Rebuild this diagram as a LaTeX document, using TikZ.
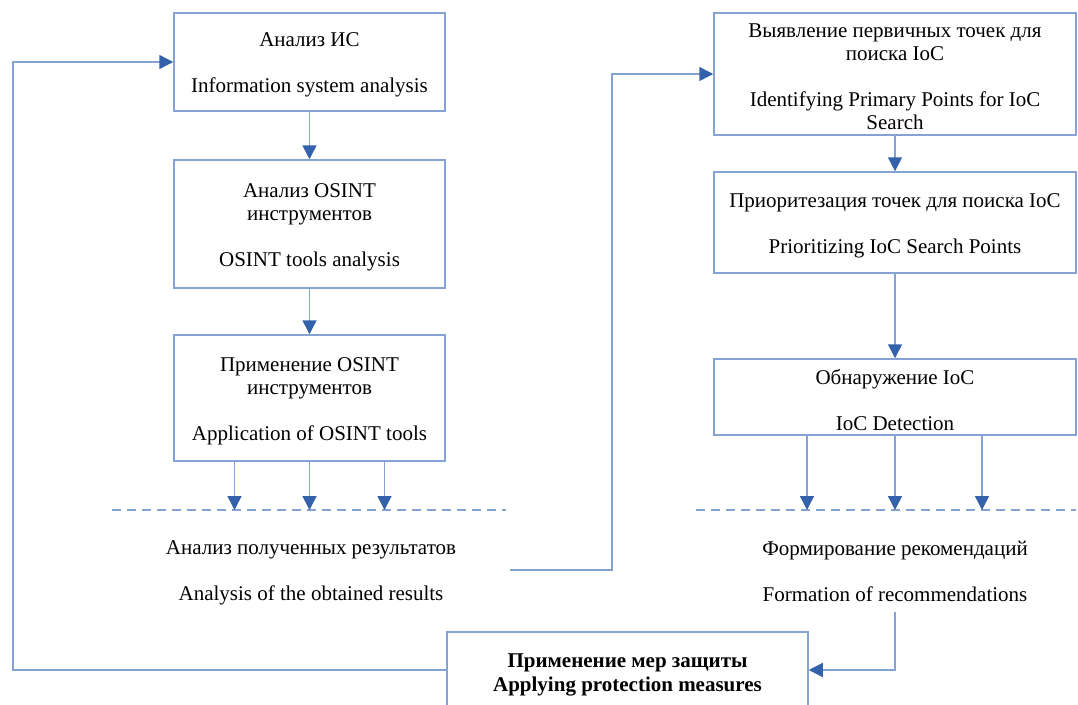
\documentclass[tikz,border=0pt]{standalone}
\usepackage{fontspec}
\setmainfont{Liberation Serif}
\usetikzlibrary{arrows.meta}
\definecolor{edge}{RGB}{132,162,212}
\definecolor{tip}{RGB}{52,98,170}
\begin{document}
\begin{tikzpicture}[x=1pt,y=-1pt,
  every node/.style={font=\fontsize{21}{23}\selectfont, align=center, inner sep=0pt},
  stagebox/.style={draw=edge, line width=1.5pt, fill=white},
  caption/.style={yshift=-3pt},
  flow/.style={draw=edge, line width=1.5pt, -{Triangle[length=14pt,width=14pt,color=tip]}},
  link/.style={draw=edge, line width=1.5pt},
  divider/.style={draw=edge, line width=1.5pt, dash pattern=on 9pt off 6pt}]
\useasboundingbox (0,0) rectangle (1078,704);
\clip (0,0) rectangle (1078,704);

% left column
\node[stagebox, minimum width=271pt, minimum height=98pt] (is) at (309.5,62) {};
\node[caption] (isT) at (is) {Анализ ИС\\[23pt]Information system analysis};
\node[stagebox, minimum width=271pt, minimum height=128pt] (tools) at (309.5,224) {};
\node[caption] (toolsT) at (tools) {Анализ OSINT\\инструментов\\[23pt]OSINT tools analysis};
\node[stagebox, minimum width=271pt, minimum height=126pt] (apply) at (309.5,398) {};
\node[caption] (applyT) at (apply) {Применение OSINT\\инструментов\\[23pt]Application of OSINT tools};
\node[minimum width=398pt, minimum height=84pt] (res) at (311,570) {};
\node[caption] (resT) at (res) {Анализ полученных результатов\\[23pt]Analysis of the obtained results};

% right column
\node[stagebox, minimum width=362pt, minimum height=122pt] (prim) at (895,74) {};
\node[caption] (primT) at (prim) {Выявление первичных точек для\\поиска IoC\\[23pt]Identifying Primary Points for IoC\\Search};
\node[stagebox, minimum width=362pt, minimum height=101pt] (prio) at (895,222.5) {};
\node[caption] (prioT) at (prio) {Приоритезация точек для поиска IoC\\[23pt]Prioritizing IoC Search Points};
\node[stagebox, minimum width=362pt, minimum height=76pt] (det) at (895,397) {};
\node[caption] (detT) at (det) {Обнаружение IoC\\[23pt]IoC Detection};
\node[minimum width=380pt, minimum height=84pt] (rec) at (895,570) {};
\node[caption, yshift=1.5pt] (recT) at (rec) {Формирование рекомендаций\\[23pt]Formation of recommendations};

% protection measures
\node[stagebox, minimum width=361pt, minimum height=76pt] (prot) at (627.5,670) {};
\node[caption, yshift=-1.5pt, font=\fontsize{21}{24}\selectfont\bfseries] (protT) at (prot)
  {Применение мер защиты\\Applying protection measures};

% dividers
\coordinate (dashLa) at (112,510);
\coordinate (dashLb) at (506,510);
\coordinate (dashRa) at (696,510);
\coordinate (dashRb) at (1076,510);
\draw[divider] (dashLa) -- (dashLb);
\draw[divider] (dashRa) -- (dashRb);

% vertical flow
\draw[flow] (is) -- (tools);
\draw[flow] (tools) -- (apply);
\draw[flow] (prim) -- (prio);
\draw[flow] (prio) -- (det);
\foreach \dx in {-75,0,75}
  \draw[flow] ([xshift=\dx pt]apply.south) -- ([xshift=\dx pt]apply.south |- dashLa);
\foreach \dx in {-88,0,87}
  \draw[flow] ([xshift=\dx pt]det.south) -- ([xshift=\dx pt]det.south |- dashRa);

% cross links
\draw[flow] (res.east) -- (612,570) |- (prim.west);
\draw[flow] (rec.south) |- (prot.east);
\draw[flow] (prot.west) -- (13,670) |- (is.west);
\end{tikzpicture}
\end{document}
